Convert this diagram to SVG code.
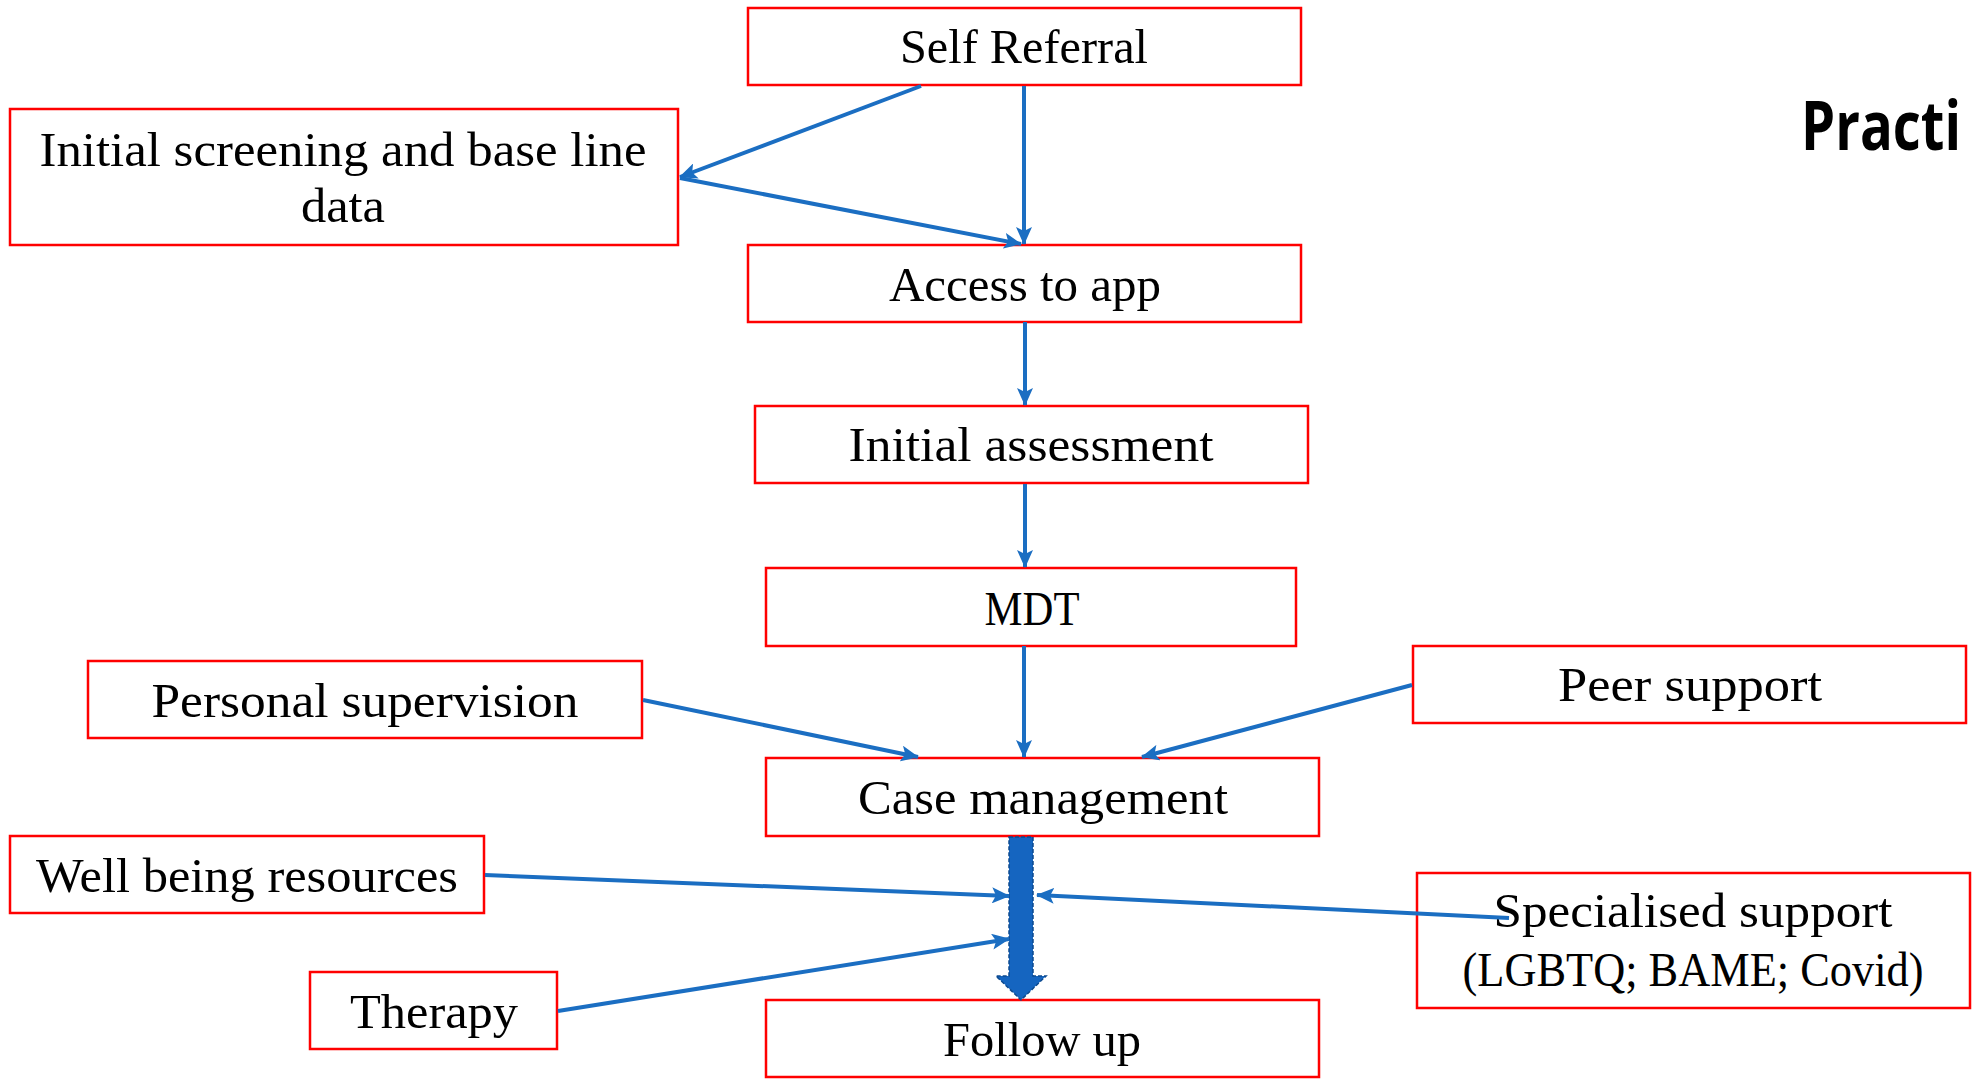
<svg xmlns="http://www.w3.org/2000/svg" width="1972" height="1081" viewBox="0 0 1972 1081">
<style>
.box{fill:#fff;stroke:#ff0000;stroke-width:2.5}
.lbl{font-family:"Liberation Serif","Times New Roman",serif;font-size:49px;fill:#000;text-anchor:middle}
.con{stroke:#1b6ec2;stroke-width:4;fill:none}
.title{font-family:"Open Sans","Liberation Sans",sans-serif;font-weight:bold;font-size:68px;fill:#000}
</style>
<defs>
<marker id="ah" markerUnits="userSpaceOnUse" markerWidth="18" markerHeight="16" refX="17" refY="8" orient="auto">
<path d="M0,0 L18,8 L0,16 L4,8 Z" fill="#1b6ec2"/>
</marker>
</defs>
<rect width="1972" height="1081" fill="#fff"/>
<text class="title" x="1801" y="150" textLength="160" lengthAdjust="spacingAndGlyphs">Practi</text>
<g id="nodes">
<g id="n-self"><rect class="box" x="748" y="8" width="553" height="77"/><text class="lbl" x="1024" y="63" textLength="248" lengthAdjust="spacingAndGlyphs">Self Referral</text></g>
<g id="n-screen"><rect class="box" x="10" y="109" width="668" height="136"/><text class="lbl" x="343" y="166" textLength="607" lengthAdjust="spacingAndGlyphs">Initial screening and base line</text><text class="lbl" x="343" y="222" textLength="84" lengthAdjust="spacingAndGlyphs">data</text></g>
<g id="n-access"><rect class="box" x="748" y="245" width="553" height="77"/><text class="lbl" x="1025" y="301" textLength="272" lengthAdjust="spacingAndGlyphs">Access to app</text></g>
<g id="n-assess"><rect class="box" x="755" y="406" width="553" height="77"/><text class="lbl" x="1031" y="461" textLength="365" lengthAdjust="spacingAndGlyphs">Initial assessment</text></g>
<g id="n-mdt"><rect class="box" x="766" y="568" width="530" height="78"/><text class="lbl" x="1032" y="625" textLength="95" lengthAdjust="spacingAndGlyphs">MDT</text></g>
<g id="n-case"><rect class="box" x="766" y="758" width="553" height="78"/><text class="lbl" x="1043" y="814" textLength="370" lengthAdjust="spacingAndGlyphs">Case management</text></g>
<g id="n-follow"><rect class="box" x="766" y="1000" width="553" height="77"/><text class="lbl" x="1042" y="1056" textLength="198" lengthAdjust="spacingAndGlyphs">Follow up</text></g>
<g id="n-personal"><rect class="box" x="88" y="661" width="554" height="77"/><text class="lbl" x="365" y="717" textLength="427" lengthAdjust="spacingAndGlyphs">Personal supervision</text></g>
<g id="n-peer"><rect class="box" x="1413" y="646" width="553" height="77"/><text class="lbl" x="1690" y="701" textLength="264" lengthAdjust="spacingAndGlyphs">Peer support</text></g>
<g id="n-well"><rect class="box" x="10" y="836" width="474" height="77"/><text class="lbl" x="247" y="892" textLength="422" lengthAdjust="spacingAndGlyphs">Well being resources</text></g>
<g id="n-therapy"><rect class="box" x="310" y="972" width="247" height="77"/><text class="lbl" x="434" y="1028" textLength="168" lengthAdjust="spacingAndGlyphs">Therapy</text></g>
<g id="n-special"><rect class="box" x="1417" y="873" width="553" height="135"/><text class="lbl" x="1693" y="927" textLength="399" lengthAdjust="spacingAndGlyphs">Specialised support</text><text class="lbl" x="1693" y="986" textLength="461" lengthAdjust="spacingAndGlyphs">(LGBTQ; BAME; Covid)</text></g>
</g>
<g id="connectors">
<line class="con" x1="921" y1="86" x2="680" y2="177" marker-end="url(#ah)"/>
<line class="con" x1="680" y1="178" x2="1021" y2="244" stroke-width="5" marker-end="url(#ah)"/>
<line class="con" x1="1024" y1="86" x2="1024" y2="244" marker-end="url(#ah)"/>
<line class="con" x1="1025" y1="322" x2="1025" y2="405" marker-end="url(#ah)"/>
<line class="con" x1="1025" y1="484" x2="1025" y2="567" marker-end="url(#ah)"/>
<line class="con" x1="1024" y1="646" x2="1024" y2="757" marker-end="url(#ah)"/>
<line class="con" x1="643" y1="700" x2="918" y2="757" marker-end="url(#ah)"/>
<line class="con" x1="1412" y1="685" x2="1142" y2="757" marker-end="url(#ah)"/>
<path d="M1009,837 L1033,837 L1033,976 L1046,976 L1021,1000 L996,976 L1009,976 Z" fill="#1565c0" stroke="#0d4a8f" stroke-width="1.5" stroke-dasharray="4 2"/>
<line class="con" x1="485" y1="875" x2="1009" y2="896" marker-end="url(#ah)"/>
<line class="con" x1="1509" y1="918" x2="1037" y2="895" marker-end="url(#ah)"/>
<line class="con" x1="558" y1="1011" x2="1009" y2="939" marker-end="url(#ah)"/>
</g>
</svg>
